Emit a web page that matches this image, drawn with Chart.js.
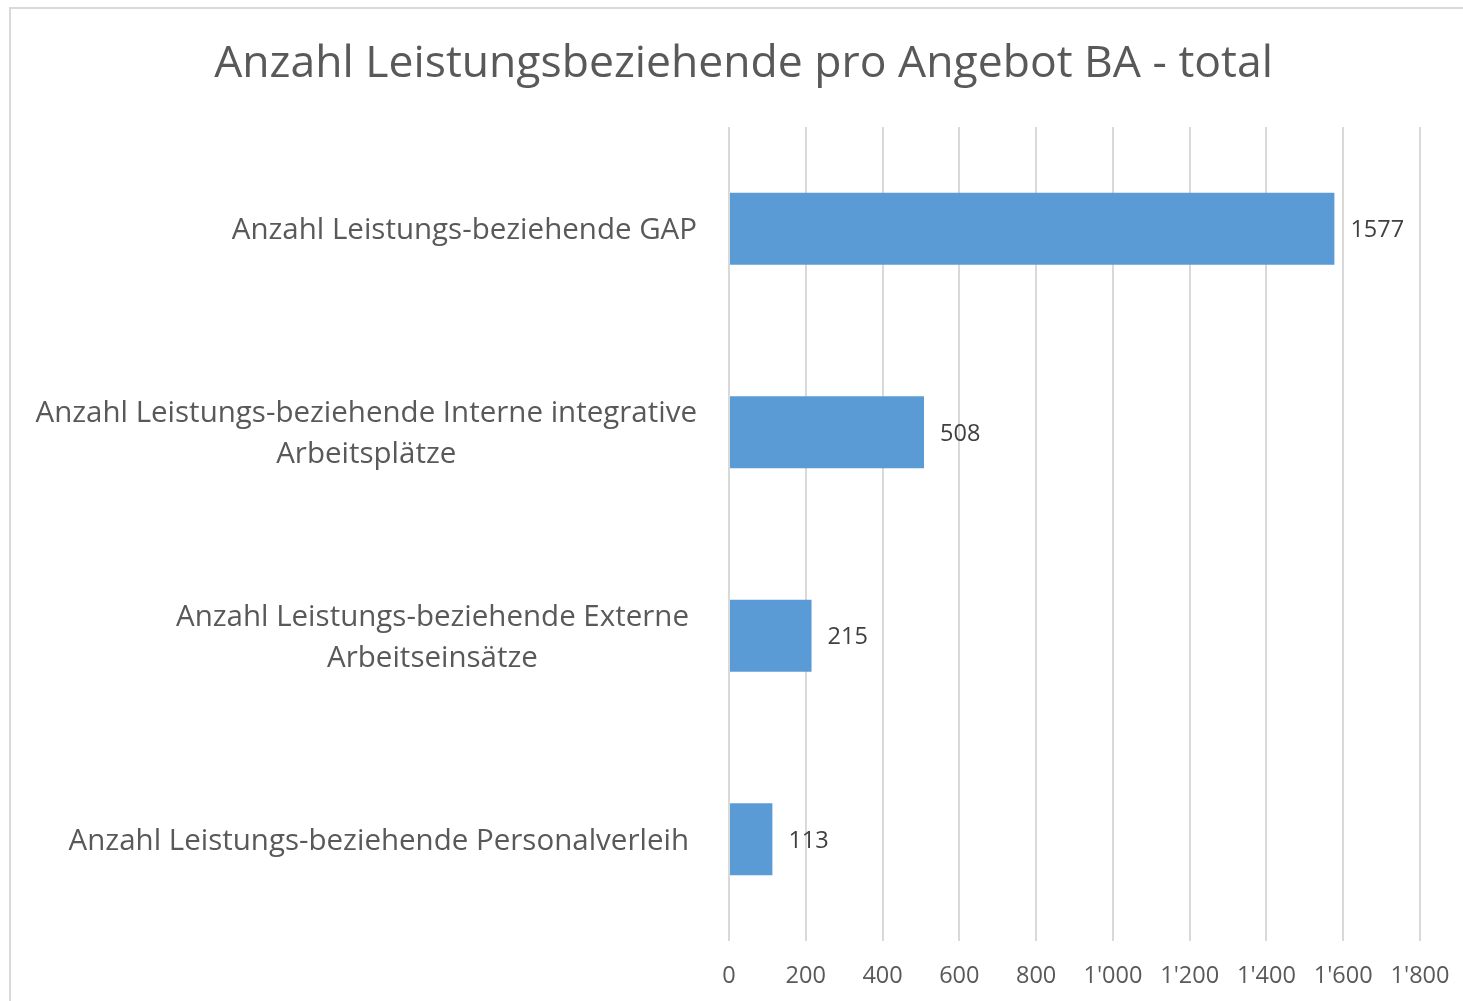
<!DOCTYPE html>
<html lang="de">
<head>
    <meta charset="UTF-8">
    <title>Anzahl Leistungsbeziehende pro Angebot BA - total</title>
    <script src="https://cdn.jsdelivr.net/npm/chart.js"></script>
    <style>
        html, body { margin: 0; padding: 0; background: #fff; overflow: hidden; width: 1463px; height: 1001px; }
        .frame { position: absolute; left: 9px; top: 7px; width: 1600px; height: 1100px; border: 2px solid #d9d9d9; }
        .wrap { position: absolute; left: 0; top: 0; width: 1463px; height: 1001px; }
    </style>
</head>
<body>
    <div class="frame"></div>
    <div class="wrap"><canvas id="chart"></canvas></div>

    <script>
        // Data
        const categories = [
            ['Anzahl Leistungs-beziehende GAP'],
            ['Anzahl Leistungs-beziehende Interne integrative', 'Arbeitsplätze'],
            ['Anzahl Leistungs-beziehende Externe', 'Arbeitseinsätze'],
            ['Anzahl Leistungs-beziehende Personalverleih']
        ];
        const values = [1577, 508, 215, 113];
        const xTicks = [0, 200, 400, 600, 800, 1000, 1200, 1400, 1600, 1800];

        const FONT = "'Open Sans', sans-serif";
        const textColor = '#595959';

        // thousands separator like 1'000
        function fmt(v) {
            return String(v).replace(/\B(?=(\d{3})+(?!\d))/g, "'");
        }

        // category labels: lines centered on each other, block right aligned
        const catLabels = {
            id: 'catLabels',
            afterDraw(chart) {
                const ctx = chart.ctx;
                const y = chart.scales.y;
                ctx.save();
                ctx.font = '29.5px ' + FONT;
                ctx.fillStyle = textColor;
                ctx.textAlign = 'center';
                ctx.textBaseline = 'middle';
                const lh = 41;
                categories.forEach((lines, i) => {
                    const w = Math.max(...lines.map(l => ctx.measureText(l).width));
                    const right = y.right - (i < 2 ? 32 : 40);
                    const cy = y.getPixelForValue(i) + 2;
                    lines.forEach((l, j) => {
                        ctx.fillText(l, right - w / 2, cy + (j - (lines.length - 1) / 2) * lh);
                    });
                });
                ctx.restore();
            }
        };

        const dataLabels = {
            id: 'dataLabels',
            afterDatasetsDraw(chart) {
                const ctx = chart.ctx;
                const meta = chart.getDatasetMeta(0);
                ctx.save();
                ctx.font = '23.5px ' + FONT;
                ctx.fillStyle = '#404040';
                ctx.textAlign = 'left';
                ctx.textBaseline = 'middle';
                meta.data.forEach((bar, i) => {
                    ctx.fillText(String(values[i]), bar.x + 16, bar.y + 2);
                });
                ctx.restore();
            }
        };

        new Chart(document.getElementById('chart'), {
            type: 'bar',
            data: {
                labels: categories,
                datasets: [{
                    data: values,
                    backgroundColor: '#5b9bd5',
                    borderWidth: 0,
                    categoryPercentage: 0.355,
                    barPercentage: 1
                }]
            },
            options: {
                indexAxis: 'y',
                responsive: true,
                maintainAspectRatio: false,
                animation: false,
                layout: { padding: { left: 67, right: 43, top: 0, bottom: 0 } },
                plugins: {
                    legend: { display: false },
                    tooltip: { enabled: false },
                    title: {
                        display: true,
                        text: 'Anzahl Leistungsbeziehende pro Angebot BA - total',
                        color: textColor,
                        font: { family: FONT, size: 44.5, weight: 'normal', lineHeight: 1.2 },
                        padding: { top: 38, bottom: 35.6 }
                    }
                },
                scales: {
                    x: {
                        min: 0,
                        max: 1800,
                        afterBuildTicks(scale) {
                            scale.ticks = xTicks.map(v => ({ value: v }));
                        },
                        afterFit(scale) {
                            scale.height = 60;
                            scale.paddingLeft = 0;
                            scale.paddingRight = 0;
                        },
                        grid: { color: '#d9d9d9', lineWidth: 2, drawTicks: false },
                        border: { display: false },
                        ticks: {
                            color: textColor,
                            padding: 21,
                            font: { family: FONT, size: 23.5 },
                            callback: v => fmt(v)
                        }
                    },
                    y: {
                        afterFit(scale) { scale.width = 662; },
                        grid: { display: false },
                        border: { display: false },
                        ticks: { display: false }
                    }
                }
            },
            plugins: [catLabels, dataLabels]
        });
    </script>
</body>
</html>
